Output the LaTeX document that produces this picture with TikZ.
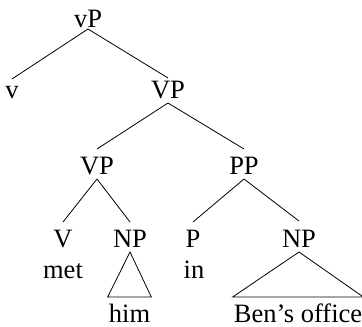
\documentclass[tikz,border=0pt]{standalone}
\usepackage{fontspec}
\setmainfont{Liberation Serif}
\begin{document}
\begin{tikzpicture}[x=1pt,y=-1pt,
  lab/.style={anchor=base,inner sep=0pt,font=\fontsize{26.5}{30}\selectfont},
  leaf/.style={lab,inner xsep=1pt},
  edge/.style={line width=0.8pt}]
\useasboundingbox (0,0) rectangle (362,327);
\node[lab] (vP) at (88,27) {vP};
\node[lab] (v) at (12,98) {v};
\node[lab] (VPa) at (168,98) {VP};
\node[lab] (VPb) at (97,174) {VP};
\node[lab] (PP) at (244,174) {PP};
\node[lab] (V) at (63,247) {V};
\node[lab] (NPa) at (130,247) {NP};
\node[lab] (P) at (193,247) {P};
\node[lab] (NPb) at (299,247) {NP};
\node[lab] (met) at (63,278) {met};
\node[lab] (in) at (194,278) {in};
\node[leaf] (him) at (129.5,322) {him};
\node[leaf] (ben) at (298,322) {Ben’s office};
\draw[edge] ([yshift=-2pt]vP.base) -- ([yshift=19pt]v.base);
\draw[edge] ([yshift=-2pt]vP.base) -- ([yshift=20pt]VPa.base);
\draw[edge] ([yshift=-5pt]VPa.base) -- ([yshift=25pt]VPb.base);
\draw[edge] ([yshift=-5pt]VPa.base) -- ([yshift=25pt]PP.base);
\draw[edge] ([yshift=-5pt]VPb.base) -- ([yshift=25pt]V.base);
\draw[edge] ([yshift=-5pt]VPb.base) -- ([yshift=25pt]NPa.base);
\draw[edge] ([yshift=-5pt]PP.base) -- ([yshift=25pt]P.base);
\draw[edge] ([yshift=-5pt]PP.base) -- ([yshift=26pt]NPb.base);
\draw[edge] ([yshift=-5pt]NPa.base) -- ([yshift=25pt]him.base east) -- ([yshift=25pt]him.base west) -- cycle;
\draw[edge] ([yshift=-5pt]NPb.base) -- ([yshift=25pt]ben.base east) -- ([yshift=25pt]ben.base west) -- cycle;
\end{tikzpicture}
\end{document}
